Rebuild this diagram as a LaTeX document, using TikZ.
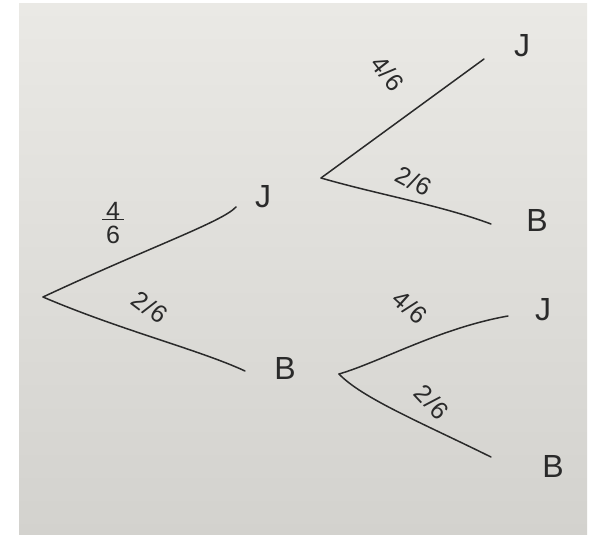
\documentclass[tikz,border=0pt]{standalone}
\usepackage{fontspec}
\setmainfont{Liberation Sans}
\definecolor{ink}{HTML}{2A2A2A}
\definecolor{paperT}{HTML}{EAE9E5}
\definecolor{paperB}{HTML}{D3D2CE}
\begin{document}
\begin{tikzpicture}[x=1pt,y=-1pt,
  branch/.style={draw=ink,line width=1.5pt,line cap=round},
  letter/.style={font=\fontsize{32}{32}\selectfont,text=ink,inner sep=0pt},
  prob/.style={font=\fontsize{25}{25}\selectfont,text=ink,inner sep=0pt}]
\useasboundingbox (0,0) rectangle (595,535);
\fill[white] (0,0) rectangle (595,535);
\shade[top color=paperT,bottom color=paperB] (19,4) rectangle (587,535);

% first level
\coordinate (r0) at (43,297);
\coordinate (e1) at (236,207);
\coordinate (e2) at (245,371);
\node[letter] (J1) at (263,197) {J};
\node[letter] (B1) at (285,368) {B};

% second level (after J)
\coordinate (r1) at (321,178);
\coordinate (e3) at (484,59);
\coordinate (e4) at (491,224);
\node[letter] (J2) at (522,46) {J};
\node[letter] (B2) at (537,220) {B};

% second level (after B)
\coordinate (r2) at (339,374);
\coordinate (e5) at (508,316);
\coordinate (e6) at (491,457);
\node[letter] (J3) at (543,310) {J};
\node[letter] (B3) at (553,466) {B};

\draw[branch] (r0) .. controls (150,247) and (222,222) .. (e1);
\draw[branch] (r0) .. controls (120,330) and (200,350) .. (e2);
\draw[branch] (r1) -- (e3);
\draw[branch] (r1) .. controls (380,195) and (440,205) .. (e4);
\draw[branch] (r2) .. controls (380,362) and (440,328) .. (e5);
\draw[branch] (r2) .. controls (362,398) and (420,422) .. (e6);

% probabilities
\node[prob] (f1) at (113,223) {\shortstack{4\\[-3pt]\rule{22pt}{1.4pt}\\[3pt]6}};
\node[prob,rotate=-37] (f2) at (150,307) {2\kern1pt/\kern1pt6};
\node[prob,rotate=-52] (f3) at (388,73) {4\kern1pt/\kern1pt6};
\node[prob,rotate=-28] (f4) at (414,181) {2\kern1pt/\kern1pt6};
\node[prob,rotate=-42] (f5) at (410,307) {4\kern1pt/\kern1pt6};
\node[prob,rotate=-47] (f6) at (432,402) {2\kern1pt/\kern1pt6};
\end{tikzpicture}
\end{document}
